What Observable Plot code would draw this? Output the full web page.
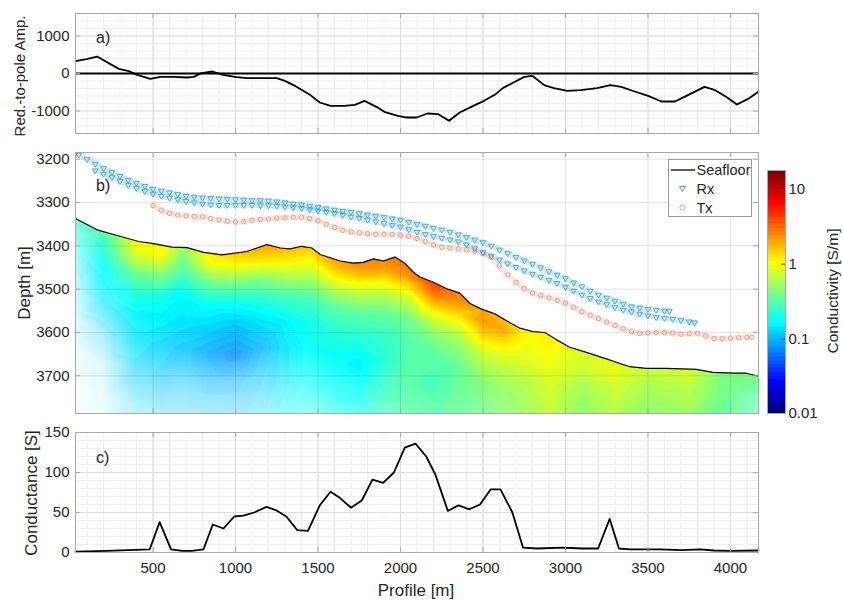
<!DOCTYPE html>
<html><head><meta charset="utf-8">
<script src="https://cdn.jsdelivr.net/npm/d3@7"></script>
<script src="https://cdn.jsdelivr.net/npm/@observablehq/plot@0.6"></script>
<style>
body{margin:0;background:#fff}
#fig{position:relative;width:843px;height:600px;background:#fff;font-family:"Liberation Sans",Arial,sans-serif;color:#262626;overflow:hidden}
.abs{position:absolute}
.lab{position:absolute;white-space:nowrap;line-height:1;transform:translate(-50%,-50%)}
</style></head><body><div id="fig"></div><script>
// ---------------- data ----------------
const xTicks = [500,1000,1500,2000,2500,3000,3500,4000];
const aTicks = [-1000,0,1000];
const bTicks = [3200,3300,3400,3500,3600,3700];
const cTicks = [0,50,100,150];
const cbTicks = [0.01,0.1,1,10];

// a) reduced-to-pole amplitude
const ampX = [30,97,161,292,353,403,484,545,626,707,747,787,859,924,1006,1071,1250,1299,1364,1446,1511,1576,1658,1723,1782,1854,1902,1984,2033,2098,2163,2229,2294,2359,2441,2506,2571,2620,2685,2750,2799,2871,2930,3011,3093,3191,3272,3338,3419,3501,3582,3664,3745,3843,3908,3973,4039,4104,4170];
const ampV = [329,382,453,124,62,-36,-142,-89,-89,-107,-89,0,53,-36,-98,-124,-124,-196,-338,-551,-773,-862,-862,-836,-729,-889,-1022,-1129,-1173,-1173,-1067,-1084,-1262,-1040,-862,-729,-569,-391,-240,-89,-62,-311,-391,-462,-444,-391,-311,-356,-480,-596,-747,-747,-569,-356,-444,-622,-827,-684,-489];

// c) conductance
const condX = [30,216,480,540,609,676,736,806,862,927,992,1048,1113,1188,1243,1308,1374,1439,1511,1576,1634,1700,1765,1830,1895,1960,2026,2091,2156,2212,2287,2352,2417,2482,2547,2606,2678,2743,2824,2987,3101,3198,3268,3324,3395,3574,3704,3818,3900,3998,4170];
const condV = [1,2,4,38,4,2,2,4,35,30,45,46,50,57,53,45,28,27,59,76,68,56,65,91,87,100,131,136,120,97,52,59,54,60,79,79,50,6,5,6,5,5,42,5,4,4,3,4,2.5,2,2.5];

// b) seafloor [profile, depth]
const seafloor = [[30,3337],[161,3363],[282,3376],[413,3390],[504,3395],[615,3403],[706,3404],[807,3415],[918,3421],[1069,3413],[1190,3397],[1271,3405],[1331,3407],[1402,3401],[1463,3405],[1513,3420],[1634,3435],[1715,3440],[1775,3438],[1836,3430],[1896,3435],[1967,3426],[2028,3441],[2078,3461],[2118,3472],[2199,3484],[2280,3499],[2360,3509],[2421,3533],[2492,3546],[2572,3557],[2643,3573],[2724,3590],[2804,3598],[2875,3600],[2946,3617],[3026,3634],[3127,3646],[3248,3661],[3389,3679],[3490,3683],[3611,3683],[3793,3685],[3894,3692],[4015,3694],[4096,3694],[4170,3701]];

// receiver tracks and transmitter track [profile, depth]
const rx1 = [[30,3186],[50,3190],[100,3200],[150,3211],[200,3221],[250,3230],[300,3239],[350,3248],[400,3255],[450,3262],[500,3269],[550,3273],[600,3277],[650,3281],[700,3285],[750,3287],[800,3289],[850,3290],[900,3291],[950,3292],[1000,3293],[1050,3294],[1100,3295],[1150,3295],[1200,3296],[1250,3298],[1300,3300],[1350,3303],[1400,3305],[1450,3308],[1500,3311],[1550,3314],[1600,3317],[1650,3320],[1700,3322],[1750,3325],[1800,3328],[1850,3331],[1900,3334],[1950,3337],[2000,3340],[2050,3345],[2100,3350],[2150,3354],[2200,3359],[2250,3363],[2300,3368],[2350,3374],[2400,3380],[2450,3386],[2500,3392],[2550,3400],[2600,3409],[2650,3417],[2700,3426],[2750,3434],[2800,3442],[2850,3450],[2900,3459],[2950,3467],[3000,3475],[3050,3485],[3100,3494],[3150,3504],[3200,3513],[3250,3520],[3300,3527],[3350,3534],[3400,3540],[3450,3543],[3500,3546],[3550,3548],[3600,3550],[3630,3551]];
const rx2 = [[150,3226],[200,3234],[250,3242],[300,3251],[350,3260],[400,3267],[450,3274],[500,3280],[550,3285],[600,3289],[650,3293],[700,3297],[750,3300],[800,3303],[850,3305],[900,3306],[950,3306],[1000,3306],[1050,3306],[1100,3306],[1150,3307],[1200,3307],[1250,3308],[1300,3310],[1350,3311],[1400,3313],[1450,3316],[1500,3319],[1550,3322],[1600,3325],[1650,3329],[1700,3333],[1750,3336],[1800,3340],[1850,3344],[1900,3348],[1950,3352],[2000,3356],[2050,3362],[2100,3368],[2150,3373],[2200,3378],[2250,3382],[2300,3386],[2350,3390],[2400,3397],[2450,3406],[2500,3415],[2550,3423],[2600,3432],[2650,3441],[2700,3449],[2750,3457],[2800,3465],[2850,3472],[2900,3479],[2950,3486],[3000,3495],[3050,3504],[3100,3513],[3150,3521],[3200,3529],[3250,3535],[3300,3542],[3350,3548],[3400,3552],[3450,3557],[3500,3561],[3550,3565],[3600,3567],[3650,3569],[3700,3572],[3750,3575],[3783,3577]];
const tx = [[500,3307],[550,3318],[600,3325],[650,3329],[700,3331],[750,3332],[800,3333],[850,3337],[900,3340],[950,3343],[1000,3345],[1050,3344],[1100,3341],[1150,3339],[1200,3338],[1250,3336],[1300,3335],[1350,3334],[1400,3334],[1450,3337],[1500,3342],[1550,3350],[1600,3358],[1650,3364],[1700,3368],[1750,3370],[1800,3372],[1850,3373],[1900,3373],[1950,3374],[2000,3375],[2050,3378],[2100,3383],[2150,3390],[2200,3398],[2250,3403],[2300,3405],[2350,3407],[2400,3409],[2450,3412],[2500,3418],[2550,3427],[2600,3446],[2650,3467],[2700,3484],[2750,3499],[2800,3509],[2850,3515],[2900,3520],[2950,3526],[3000,3532],[3050,3542],[3100,3552],[3150,3560],[3200,3568],[3250,3576],[3300,3584],[3350,3591],[3400,3598],[3450,3602],[3500,3601],[3550,3600],[3600,3600],[3650,3601],[3700,3604],[3750,3603],[3800,3602],[3850,3608],[3900,3614],[3950,3614],[4000,3613],[4050,3612],[4100,3611],[4130,3611]];

// conductivity model: columns (profile), seafloor depth at column, offsets below seafloor
const modelX   = [0,200,400,550,680,850,1000,1150,1300,1450,1600,1750,1900,2050,2200,2350,2500,2620,2750,2900,3100,3300,3500,3750,3950,4200];
const modelTop = [3335,3367,3388,3398,3405,3417,3417,3402,3406,3402,3428,3440,3433,3447,3487,3508,3548,3568,3593,3605,3643,3667,3683,3684,3693,3702];
const modelOffsets = [0,25,50,80,120,170,230,300,380,470];
// log10 conductivity [S/m], one row per column
const modelLogSigma = [
 [-0.65,-0.7,-0.75,-0.8,-0.85,-0.85,-0.9,-0.9,-0.9,-0.9],
 [-0.5,-0.6,-0.65,-0.75,-0.8,-0.85,-0.9,-0.9,-0.9,-0.9],
 [0.0,-0.05,-0.2,-0.45,-0.65,-0.8,-0.85,-0.9,-0.9,-0.9],
 [0.05,0.0,-0.2,-0.45,-0.7,-0.8,-0.9,-0.95,-0.95,-0.95],
 [-0.3,-0.4,-0.5,-0.65,-0.8,-0.85,-0.95,-0.95,-0.95,-0.9],
 [0.1,0.0,-0.25,-0.5,-0.75,-0.9,-1.05,-1.0,-0.95,-0.95],
 [0.2,0.05,-0.2,-0.5,-0.75,-0.95,-1.12,-1.0,-0.95,-0.9],
 [0.3,0.15,-0.1,-0.4,-0.65,-0.85,-1.0,-0.95,-0.9,-0.85],
 [0.25,0.1,-0.1,-0.35,-0.6,-0.8,-0.85,-0.85,-0.8,-0.8],
 [0.2,0.05,-0.1,-0.3,-0.55,-0.7,-0.75,-0.75,-0.7,-0.7],
 [0.35,0.2,0.0,-0.25,-0.5,-0.65,-0.75,-0.75,-0.7,-0.65],
 [0.4,0.25,0.0,-0.25,-0.5,-0.65,-0.8,-0.75,-0.65,-0.6],
 [0.4,0.3,0.05,-0.2,-0.45,-0.6,-0.65,-0.6,-0.55,-0.55],
 [0.45,0.35,0.1,-0.15,-0.4,-0.5,-0.5,-0.5,-0.5,-0.5],
 [0.6,0.45,0.2,-0.1,-0.35,-0.5,-0.55,-0.5,-0.5,-0.5],
 [0.45,0.35,0.15,-0.1,-0.3,-0.45,-0.45,-0.45,-0.45,-0.45],
 [0.3,0.35,0.2,0.0,-0.2,-0.35,-0.4,-0.4,-0.4,-0.4],
 [0.25,0.3,0.15,-0.05,-0.2,-0.3,-0.35,-0.35,-0.35,-0.35],
 [0.05,0.0,-0.05,-0.1,-0.2,-0.25,-0.3,-0.3,-0.3,-0.3],
 [0.05,0.05,0.0,-0.05,-0.1,-0.15,-0.2,-0.2,-0.2,-0.2],
 [-0.1,-0.1,-0.15,-0.25,-0.3,-0.35,-0.35,-0.35,-0.35,-0.35],
 [-0.05,-0.05,-0.1,-0.15,-0.2,-0.25,-0.25,-0.25,-0.25,-0.25],
 [-0.15,-0.2,-0.25,-0.3,-0.35,-0.4,-0.4,-0.4,-0.4,-0.4],
 [-0.1,-0.15,-0.2,-0.25,-0.3,-0.35,-0.35,-0.35,-0.35,-0.35],
 [-0.35,-0.4,-0.4,-0.45,-0.45,-0.5,-0.5,-0.5,-0.5,-0.5],
 [-0.4,-0.45,-0.5,-0.5,-0.5,-0.5,-0.5,-0.5,-0.5,-0.5]
];
// model opacity (sensitivity mask), one row per column
const modelAlpha = [
 [0.55,0.45,0.35,0.25,0.17,0.1,0.06,0.03,0.02,0.02],
 [1,1,0.95,0.9,0.8,0.6,0.35,0.15,0.08,0.05],
 [1,1,1,1,1,0.95,0.8,0.55,0.3,0.2],
 [1,1,1,1,1,1,0.85,0.55,0.3,0.2],
 [1,1,1,1,1,1,0.85,0.5,0.28,0.2],
 [1,1,1,1,1,1,0.85,0.5,0.28,0.2],
 [1,1,1,1,1,1,0.85,0.5,0.3,0.22],
 [1,1,1,1,1,1,0.85,0.55,0.32,0.25],
 [1,1,1,1,1,1,0.9,0.6,0.38,0.3],
 [1,1,1,1,1,1,0.95,0.7,0.45,0.35],
 [1,1,1,1,1,1,1,0.75,0.5,0.4],
 [1,1,1,1,1,1,1,0.8,0.55,0.45],
 [1,1,1,1,1,1,1,0.85,0.6,0.5],
 [1,1,1,1,1,1,1,0.9,0.7,0.55],
 [1,1,1,1,1,1,1,0.85,0.65,0.55],
 [1,1,1,1,1,1,0.95,0.8,0.65,0.55],
 [1,1,1,1,1,1,0.85,0.7,0.6,0.5],
 [1,1,1,1,1,0.95,0.8,0.7,0.6,0.5],
 [1,1,1,1,1,0.95,0.9,0.8,0.7,0.6],
 [1,1,1,1,1,1,1,1,1,1],
 [1,1,1,1,1,1,1,1,1,1],
 [1,1,1,1,1,1,1,1,1,1],
 [1,1,1,1,1,1,1,1,1,1],
 [1,1,1,1,1,1,1,1,1,1],
 [1,1,1,1,1,1,1,1,1,1],
 [1,0.85,0.6,0.5,0.5,0.5,0.5,0.5,0.5,0.5]
];

// ---------------- setup ----------------
const fig = document.getElementById("fig");
const FONT = '"Liberation Sans", Arial, sans-serif';
const FRAME = "#a8a8a8";
const GMAJ = "#dcdcdc", GMIN = "#efefef";
const RX = "#2c9fd6", TX = "#f08a6b";
const xDomain = [30, 4170];
const bDomain = [3184.5, 3787];
const LOGMIN = -2, LOGMAX = Math.log10(18);
const xMinor = d3.range(100, 4170, 100);
const aMinorY = d3.range(-1600, 1601, 200);
const cMinorY = d3.range(10, 150, 10);
const W = 683;
const style = {fontFamily: FONT, fontSize: "15px", color: "#262626", background: "transparent", overflow: "visible"};

function jetC(t) {
  const c = v => Math.max(0, Math.min(1, v));
  const r = c(Math.min(4*t-1.5, -4*t+4.5)), g = c(Math.min(4*t-0.5, -4*t+3.5)), b = c(Math.min(4*t+0.5, -4*t+2.5));
  return `rgb(${Math.round(r*255)},${Math.round(g*255)},${Math.round(b*255)})`;
}
function jetQ(t) { const k = Math.max(0, Math.min(63, Math.floor(t*64))); return jetC(k/63); }
const colorScale = {type: "linear", domain: [LOGMIN, LOGMAX], interpolate: jetQ, clamp: true};

function place(el, left, top) {
  const d = document.createElement("div"); d.className = "abs";
  d.style.left = left + "px"; d.style.top = top + "px"; d.appendChild(el); fig.appendChild(d);
}
function label(text, cx, cy, size, rot) {
  const d = document.createElement("div"); d.className = "lab"; d.textContent = text;
  d.style.left = cx + "px"; d.style.top = cy + "px"; d.style.fontSize = size + "px";
  if (rot) d.style.transform = "translate(-50%,-50%) rotate(-90deg)";
  fig.appendChild(d);
}
function boxTicks(H, xt, yt) {
  return [
    Plot.tickX(xt, {x: d => d, insetTop: H - 5, stroke: FRAME}),
    Plot.tickX(xt, {x: d => d, insetBottom: H - 5, stroke: FRAME}),
    Plot.tickY(yt, {y: d => d, insetRight: W - 5, stroke: FRAME}),
    Plot.tickY(yt, {y: d => d, insetLeft: W - 5, stroke: FRAME})
  ];
}
const P = {x: d => d[0], y: d => d[1]};

// ---------------- panel a ----------------
const ampData = ampX.map((x, i) => ({x, v: ampV[i]}));
const pa = Plot.plot({
  width: 843, height: 138, marginLeft: 75, marginRight: 85, marginTop: 13, marginBottom: 5, style,
  x: {domain: xDomain, axis: null},
  y: {domain: [-1600, 1600]},
  marks: [
    Plot.gridX(xMinor, {stroke: GMIN, strokeOpacity: 1}),
    Plot.gridY(aMinorY, {stroke: GMIN, strokeOpacity: 1}),
    Plot.gridX(xTicks, {stroke: GMAJ, strokeOpacity: 1}),
    Plot.gridY(aTicks, {stroke: GMAJ, strokeOpacity: 1}),
    Plot.ruleY([0], {stroke: "#000", strokeWidth: 2}),
    Plot.line(ampData, {x: "x", y: "v", stroke: "#000", strokeWidth: 1.8}),
    ...boxTicks(120, xTicks, aTicks),
    Plot.axisY(aTicks, {tickSize: 0, tickPadding: 6, tickFormat: d => String(d), label: null}),
    Plot.frame({stroke: FRAME})
  ]
});
place(pa, 0, 0);

// ---------------- panel b ----------------
const samples = [];
modelX.forEach((x, i) => modelOffsets.forEach((o, j) =>
  samples.push({x, z: modelTop[i] + o, v: modelLogSigma[i][j], a: modelAlpha[i][j]})));
const trackDots = (data, symbol, stroke, r) => [
  Plot.line(data, {...P, stroke, strokeWidth: 5.5, strokeOpacity: 0.22, clip: true}),
  Plot.dot(data, {...P, symbol, rotate: symbol === "triangle" ? 180 : 0, r, stroke, strokeWidth: 0.8, fill: "none", clip: true})
];
const pb = Plot.plot({
  width: 843, height: 278, marginLeft: 75, marginRight: 85, marginTop: 12, marginBottom: 5, style,
  x: {domain: xDomain, axis: null},
  y: {domain: bDomain, reverse: true},
  color: colorScale,
  opacity: {domain: [0, 1], range: [0, 1]},
  marks: [
    Plot.raster(samples, {x: "x", y: "z", fill: "v", fillOpacity: "a", interpolate: "barycentric"}),
    Plot.areaY(seafloor, {...P, y1: d => d[1], y2: () => bDomain[0], fill: "white"}),
    Plot.gridX(xTicks, {stroke: "#000", strokeOpacity: 0.1}),
    Plot.gridY(bTicks, {stroke: "#000", strokeOpacity: 0.1}),
    Plot.line(seafloor, {...P, stroke: "#000", strokeWidth: 1.2}),
    ...trackDots(tx, "circle", TX, 2.2),
    ...trackDots(rx1, "triangle", RX, 2.1),
    ...trackDots(rx2, "triangle", RX, 2.1),
    ...boxTicks(261, xTicks, bTicks),
    Plot.axisY(bTicks, {tickSize: 0, tickPadding: 6, tickFormat: d => String(d), label: null}),
    Plot.frame({stroke: FRAME})
  ]
});
place(pb, 0, 140);

// colorbar
const cb = Plot.plot({
  width: 103, height: 278, marginLeft: 27, marginRight: 58, marginTop: 30, marginBottom: 5, style,
  x: {domain: [0, 1], axis: null},
  y: {type: "log", domain: [0.01, 18]},
  color: colorScale,
  marks: [
    Plot.raster({fill: (x, y) => Math.log10(y), x1: 0, x2: 1, y1: 0.01, y2: 18}),
    Plot.tickY(cbTicks, {y: d => d, insetLeft: 14, stroke: "#444"}),
    Plot.axisY(cbTicks, {anchor: "right", tickSize: 0, tickPadding: 3, tickFormat: d => String(d), label: null}),
    Plot.frame({stroke: FRAME})
  ]
});
place(cb, 740, 140);

// legend
const NS = "http://www.w3.org/2000/svg";
const lg = document.createElementNS(NS, "svg");
lg.setAttribute("width", 84); lg.setAttribute("height", 58);
lg.innerHTML = `
<rect x="0.5" y="0.5" width="83" height="57" fill="white" stroke="#9a9a9a"/>
<line x1="3" x2="27" y1="11" y2="11" stroke="#262626" stroke-width="1.5"/>
<path d="M11.5,27.5 L17.5,27.5 L14.5,32.5 Z" fill="none" stroke="${RX}" stroke-width="0.9"/>
<circle cx="14.5" cy="48.5" r="2.6" fill="none" stroke="${TX}" stroke-width="0.9"/>
<g font-family='${FONT}' font-size="14.5" fill="#262626">
<text x="28.5" y="16">Seafloor</text>
<text x="28.5" y="35">Rx</text>
<text x="28.5" y="54">Tx</text>
</g>`;
place(lg, 668, 159);

// ---------------- panel c ----------------
const condData = condX.map((x, i) => ({x, v: condV[i]}));
const pc = Plot.plot({
  width: 843, height: 180, marginLeft: 75, marginRight: 85, marginTop: 12, marginBottom: 48, style,
  x: {domain: xDomain},
  y: {domain: [0, 150]},
  marks: [
    Plot.gridX(xMinor, {stroke: GMIN, strokeOpacity: 1}),
    Plot.gridY(cMinorY, {stroke: GMIN, strokeOpacity: 1}),
    Plot.gridX(xTicks, {stroke: GMAJ, strokeOpacity: 1}),
    Plot.gridY(cTicks, {stroke: GMAJ, strokeOpacity: 1}),
    Plot.line(condData, {x: "x", y: "v", stroke: "#000", strokeWidth: 1.8}),
    ...boxTicks(120, xTicks, cTicks),
    Plot.axisX(xTicks, {tickSize: 0, tickPadding: 10, tickFormat: d => String(d), label: null}),
    Plot.axisY(cTicks, {tickSize: 0, tickPadding: 6, tickFormat: d => String(d), label: null}),
    Plot.frame({stroke: FRAME})
  ]
});
place(pc, 0, 420);

// ---------------- text ----------------
label("Red.-to-pole Amp.", 19, 76, 15, true);
label("Depth [m]", 24, 283, 17, true);
label("Conductance [S]", 31, 493, 17, true);
label("Conductivity [S/m]", 833, 291, 15.5, true);
label("Profile [m]", 416, 590, 17, false);
const pl = [["a)", 38], ["b)", 186], ["c)", 458]];
pl.forEach(([t, y]) => {
  const d = document.createElement("div"); d.className = "abs"; d.textContent = t;
  d.style.left = "96px"; d.style.top = (y - 8) + "px"; d.style.fontSize = "16px"; d.style.lineHeight = "16px";
  fig.appendChild(d);
});
</script></body></html>
